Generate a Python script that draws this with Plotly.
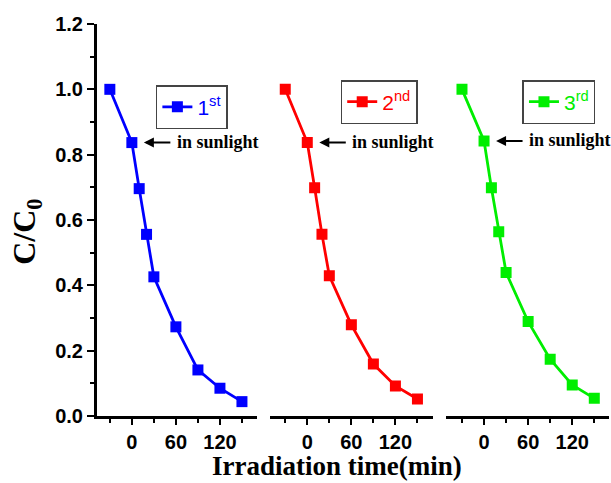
import plotly.graph_objects as go

time_min = [-30, 0, 10, 20, 30, 60, 90, 120, 150]
run1 = [1.0, 0.837, 0.696, 0.556, 0.426, 0.273, 0.141, 0.085, 0.044]
run2 = [1.0, 0.837, 0.699, 0.556, 0.429, 0.279, 0.159, 0.092, 0.052]
run3 = [1.0, 0.842, 0.699, 0.564, 0.439, 0.289, 0.174, 0.095, 0.054]
names = ["1<sup>st</sup>", "2<sup>nd</sup>", "3<sup>rd</sup>"]
colors = ["#0000FF", "#FF0000", "#00EE00"]
runs = [run1, run2, run3]
y_ticks = [0.0, 0.2, 0.4, 0.6, 0.8, 1.0, 1.2]
x_ticks = [0, 60, 120]

fig = go.Figure()
xaxes = ["x", "x2", "x3"]
legends = ["legend", "legend2", "legend3"]
for i in range(3):
    fig.add_trace(go.Scatter(
        x=time_min, y=runs[i], xaxis=xaxes[i], yaxis="y",
        mode="lines+markers", name=names[i], legend=legends[i], showlegend=True,
        line=dict(color=colors[i], width=2.8),
        marker=dict(symbol="square", size=11, color=colors[i]),
    ))

domains = [[0.0, 0.3125], [0.338, 0.656], [0.682, 1.0]]
ranges = [[-47.5, 170.5], [-50.7, 171], [-51.5, 170]]
tickfont = dict(family="Liberation Sans", size=20, color="black", weight="bold")
for i in range(3):
    key = "xaxis" if i == 0 else f"xaxis{i+1}"
    fig.layout[key] = dict(
        domain=domains[i], range=ranges[i], anchor="y",
        showline=True, linecolor="black", linewidth=3,
        showgrid=False, zeroline=False,
        tickmode="array", tickvals=x_ticks,
        ticks="outside", ticklen=6, tickwidth=2, tickcolor="black",
        minor=dict(dtick=30, tick0=0, ticks="outside", ticklen=4, tickwidth=2, tickcolor="black"),
        tickfont=tickfont,
    )

fig.update_layout(
    yaxis=dict(
        range=[0, 1.2], domain=[0, 1], anchor="x",
        showline=True, linecolor="black", linewidth=3,
        showgrid=False, zeroline=False,
        tickmode="array", tickvals=y_ticks, ticktext=[f"{v:.1f}" for v in y_ticks],
        ticks="outside", ticklen=7, tickwidth=2, tickcolor="black",
        minor=dict(dtick=0.1, tick0=0, ticks="outside", ticklen=4, tickwidth=2, tickcolor="black"),
        tickfont=tickfont,
    ),
    width=611, height=483,
    margin=dict(l=97, r=2, t=24, b=67),
    plot_bgcolor="white", paper_bgcolor="white",
    showlegend=True,
)

leg_pos = [(0.115, 0.844), (0.476, 0.857), (0.831, 0.857)]
for i in range(3):
    fig.layout[legends[i]] = dict(
        x=leg_pos[i][0], y=leg_pos[i][1], xanchor="left", yanchor="top",
        bordercolor="#444444", borderwidth=1.5, bgcolor="white",
        font=dict(family="Liberation Sans", size=21, color=colors[i]),
        itemwidth=30, tracegroupgap=0,
    )

# arrows and "in sunlight" labels
for i in range(3):
    xa = xaxes[i]
    fig.add_annotation(
        x=time_min[1], y=runs[i][1], xref=xa, yref="y",
        text="", showarrow=True, ax=40, ay=0,
        arrowhead=2, arrowsize=1, arrowwidth=2, arrowcolor="black", standoff=12,
    )
    fig.add_annotation(
        x=time_min[1], y=runs[i][1], xref=xa, yref="y",
        text="in sunlight", showarrow=False, xanchor="left", yanchor="middle",
        xshift=43, yshift=1,
        font=dict(family="Liberation Serif", size=18, color="black", weight="bold"),
    )

fig.add_annotation(
    x=0.468, y=(416 - 466) / 392, xref="paper", yref="paper", text="Irradiation time(min)",
    showarrow=False, xanchor="center", yanchor="middle",
    font=dict(family="Liberation Serif", size=27, color="black", weight="bold"),
)
fig.add_annotation(
    x=-70 / 512, y=0.47, xref="paper", yref="paper", text="C/C<sub>0</sub>",
    showarrow=False, xanchor="center", yanchor="middle", textangle=-90,
    font=dict(family="Liberation Serif", size=32, color="black", weight="bold"),
)

fig.write_html("out.html")
